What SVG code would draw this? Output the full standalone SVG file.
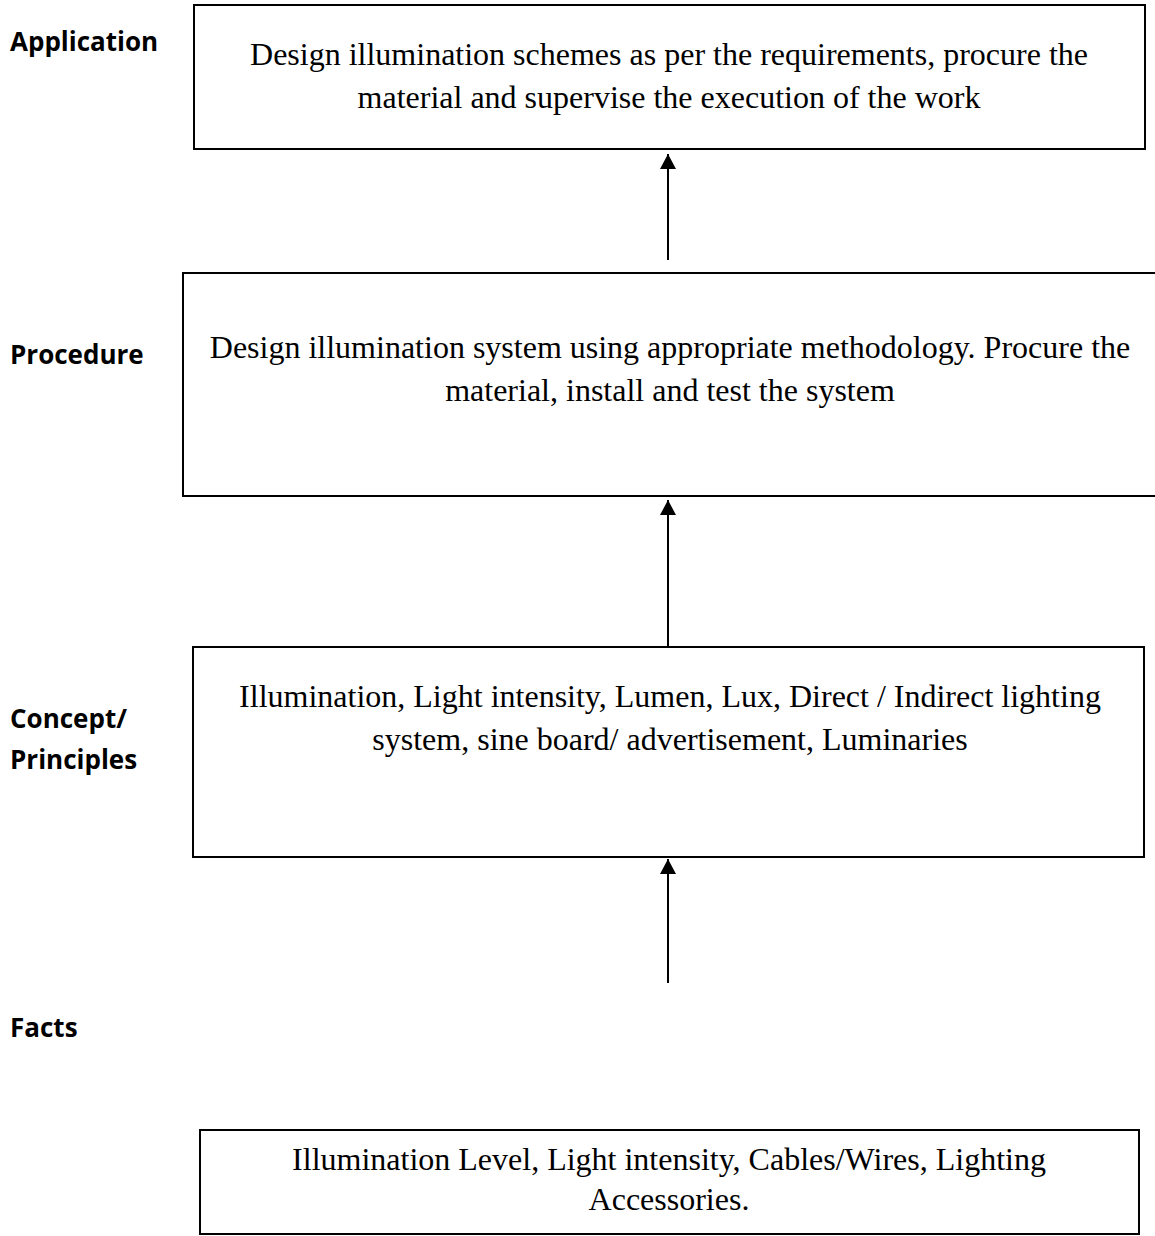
<svg xmlns="http://www.w3.org/2000/svg" width="1155" height="1236" viewBox="0 0 1155 1236">
<style>
.box{fill:#fff;stroke:#000;stroke-width:2}
.t{font-family:"Liberation Serif","Times New Roman",serif;font-size:32px;fill:#000;text-anchor:middle}
.lbl{font-family:"Open Sans","Liberation Sans",sans-serif;font-weight:bold;font-size:26px;fill:#000}
.conn{stroke:#000;stroke-width:2;fill:none}
</style>
<defs>
<marker id="ah" viewBox="0 0 10 10" refX="10" refY="5" markerWidth="15" markerHeight="16" markerUnits="userSpaceOnUse" orient="auto" preserveAspectRatio="none">
<path d="M0,0 L10,5 L0,10 z" fill="#000"/>
</marker>
</defs>
<rect width="1155" height="1236" fill="#fff"/>
<g id="labels">
<text class="lbl" x="10" y="51">Application</text>
<text class="lbl" x="10" y="364">Procedure</text>
<text class="lbl" x="10" y="728">Concept/</text>
<text class="lbl" x="10" y="769">Principles</text>
<text class="lbl" x="10" y="1037">Facts</text>
</g>
<g id="node-application">
<rect class="box" x="194" y="5" width="951" height="144"/>
<text class="t" x="669" y="65">Design illumination schemes as per the requirements, procure the</text>
<text class="t" x="669" y="108">material and supervise the execution of the work</text>
</g>
<g id="node-procedure">
<rect class="box" x="183" y="273" width="973" height="223"/>
<text class="t" x="670" y="358">Design illumination system using appropriate methodology. Procure the</text>
<text class="t" x="670" y="401">material, install and test the system</text>
</g>
<g id="node-concept">
<rect class="box" x="193" y="647" width="951" height="210"/>
<text class="t" x="670" y="707">Illumination, Light intensity,  Lumen, Lux, Direct / Indirect lighting</text>
<text class="t" x="670" y="750">system, sine board/ advertisement, Luminaries</text>
</g>
<g id="node-facts">
<rect class="box" x="200" y="1130" width="939" height="104"/>
<text class="t" x="669" y="1170">Illumination Level, Light intensity, Cables/Wires, Lighting</text>
<text class="t" x="669" y="1210">Accessories.</text>
</g>
<g id="connectors">
<line class="conn" x1="668" y1="260" x2="668" y2="154" marker-end="url(#ah)"/>
<line class="conn" x1="668" y1="648" x2="668" y2="500" marker-end="url(#ah)"/>
<line class="conn" x1="668" y1="983" x2="668" y2="859" marker-end="url(#ah)"/>
</g>
</svg>
